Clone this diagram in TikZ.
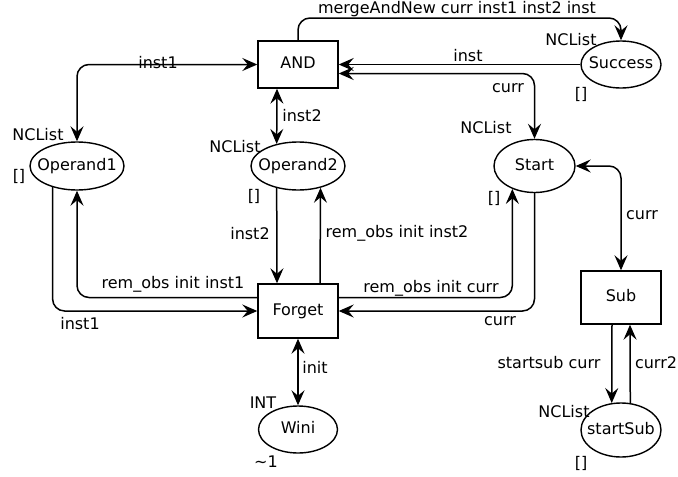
\documentclass[tikz,border=0pt]{standalone}
\usepackage{fontspec}
\setmainfont{DejaVu Sans}
\usetikzlibrary{arrows.meta,shapes.geometric,calc}
\begin{document}
\begin{tikzpicture}[x=1pt,y=-1pt,
  >={Stealth[length=15pt,width=13pt,inset=5.5pt]},
  every node/.style={font=\fontsize{16}{19}\selectfont,text height=11.5pt,text depth=3.5pt},
  trans/.style={draw,rectangle,minimum width=80pt,inner sep=0pt,line width=1.4pt},
  place/.style={draw,ellipse,inner sep=0pt,line width=1.4pt},
  conn/.style={line width=1.5pt,rounded corners=12pt},
  lbl/.style={inner sep=0pt}]
\useasboundingbox (0,0) rectangle (678,477);
% transitions
\node[trans,minimum height=47pt] (AND) at (298,64.5) {AND};
\node[trans,minimum height=54pt] (Forget) at (298,311) {Forget};
\node[trans,minimum height=53pt] (Sub) at (621,297.5) {Sub};
% places
\node[place,minimum width=94pt,minimum height=48pt] (Operand1) at (77,166) {\makebox[0pt]{Operand1}};
\node[place,minimum width=94pt,minimum height=48pt] (Operand2) at (298,166) {\makebox[0pt]{Operand2}};
\node[place,minimum width=81pt,minimum height=53pt] (Start) at (534.5,166) {\makebox[0pt]{Start}};
\node[place,minimum width=80pt,minimum height=47pt] (Success) at (621,64.5) {\makebox[0pt]{Success}};
\node[place,minimum width=80pt,minimum height=54pt] (startSub) at (621,430) {\makebox[0pt]{startSub}};
\node[place,minimum width=79pt,minimum height=47pt] (Wini) at (298,429.5) {\makebox[0pt]{Wini}};
% helper coordinates
\coordinate (x277) at (277,0);
\coordinate (x320) at (320,0);
\coordinate (x612) at (612,0);
\coordinate (x630) at (630,0);
\coordinate (mtop) at (621,18);
\coordinate (y73) at (0,73.5);
\coordinate (y297) at (0,297.5);
% arcs
\draw[conn,<->] (Operand1.north) |- (AND.west);
\draw[conn,<->] (AND.south -| x277) -- (Operand2.134);
\draw[conn,->] (AND.north) |- (mtop) -- (Success.north);
\draw[conn,->] (Success.west) -- (Success.west -| AND.east);
\draw[conn,<->] (AND.east |- y73) -| (Start.north);
\draw[conn,->] (Operand2.226) -- (Forget.north -| x277);
\draw[conn,->] (Forget.north -| x320) -- (Operand2.316);
\draw[conn,->] (Forget.west |- y297) -| (Operand1.south);
\draw[conn,->] (Operand1.221) |- (Forget.west);
\draw[conn,->] (Forget.east |- y297) -| (Start.226);
\draw[conn,->] (Start.south) |- (Forget.east);
\draw[conn,<->] (Start.east) -| (Sub.north);
\draw[conn,->] (Sub.south -| x612) -- (startSub.109);
\draw[conn,->] (startSub.71) -- (Sub.south -| x630);
\draw[conn,<->] (Forget.south) -- (Wini.north);
% arc labels
\node[lbl] (l1) at (158,64) {inst1};
\node[lbl] (l2) at (302,117) {inst2};
\node[lbl] (l3) at (457,9) {mergeAndNew curr inst1 inst2 inst};
\node[lbl] (l4) at (468,57) {inst};
\node[lbl] (l5) at (508,88) {curr};
\node[lbl] (l6) at (250,235) {inst2};
\node[lbl] (l7) at (397,233) {rem\_obs init inst2};
\node[lbl] (l8) at (173,284) {rem\_obs init inst1};
\node[lbl] (l9) at (80,325) {inst1};
\node[lbl] (l10) at (431,288) {rem\_obs init curr};
\node[lbl] (l11) at (500,321) {curr};
\node[lbl] (l12) at (642,215) {curr};
\node[lbl] (l13) at (549,364) {startsub curr};
\node[lbl] (l14) at (656,364) {curr2};
\node[lbl] (l15) at (315,369) {init};
% place inscriptions
\node[lbl] (t1) at (38,136) {NCList};
\node[lbl] (m1) at (19,177) {[]};
\node[lbl] (t2) at (235,148) {NCList};
\node[lbl] (m2) at (254,197) {[]};
\node[lbl] (t3) at (571,41) {NCList};
\node[lbl] (m3) at (581,95) {[]};
\node[lbl] (t4) at (486,129) {NCList};
\node[lbl] (m4) at (494,199) {[]};
\node[lbl] (t5) at (564,413) {NCList};
\node[lbl] (m5) at (581,464) {[]};
\node[lbl] (t6) at (263,404) {INT};
\node[lbl] (m6) at (266,463) {\textasciitilde1};
\end{tikzpicture}
\end{document}
